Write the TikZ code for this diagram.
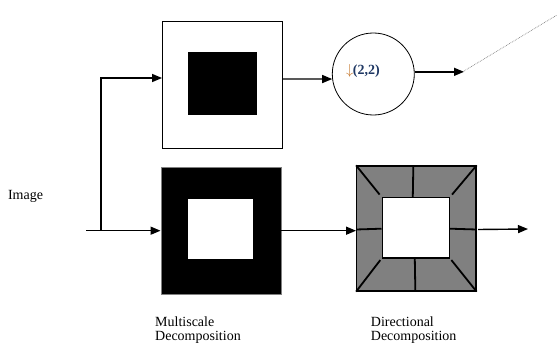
\documentclass[tikz,border=0pt]{standalone}
\usepackage{fontspec}
\setmainfont{Liberation Serif}
\usetikzlibrary{arrows.meta,calc}
\definecolor{panelgray}{HTML}{808080}
\definecolor{arrowtan}{HTML}{C5762A}
\definecolor{navytext}{HTML}{1F3864}
\tikzset{
  outer/.style={draw=black, line width=1.3pt, minimum width=#1, inner sep=0pt},
  flow/.style={line width=1.4pt, -{Triangle[length=10pt,width=8pt]}},
  cut/.style={line width=1.8pt},
  caption/.style={font=\fontsize{14}{14.3}\selectfont, inner sep=0pt},
}
\begin{document}
\begin{tikzpicture}[x=1pt,y=-1pt]
\useasboundingbox (0,0) rectangle (558,345);
\fill[white] (0,0) rectangle (558,345);

% low-pass branch: framed square with black core
\node[outer=119.6pt, minimum height=126.6pt, fill=white] (tb) at (222.5,85) {};
\node[fill=black, minimum width=69pt, minimum height=63pt, inner sep=0pt] (tbi) at (222.2,83.8) {};

% band-pass branch: black frame with white core
\node[draw=gray, line width=0.6pt, fill=black, minimum width=120.3pt, minimum height=126.7pt, inner sep=0pt] (bb) at (221,230.7) {};
\node[fill=white, minimum width=65.6pt, minimum height=59.7pt, inner sep=0pt] (bbi) at (220.5,229.2) {};

% directional filter bank: gray frame split into wedges
\node[outer=119.3pt, minimum height=125pt, fill=panelgray] (gb) at (416.35,228.5) {};
\node[draw=black, line width=1.6pt, fill=white, minimum width=67pt, minimum height=60pt, inner sep=0pt] (gi) at (415.8,227.7) {};
\draw[cut, shorten >=3pt] (gb.north west) -- (gi.north west);
\draw[cut, shorten >=3pt] (gb.north east) -- (gi.north east);
\draw[cut, shorten >=2pt] (gb.south west) -- (gi.south west);
\draw[cut, shorten >=2pt] (gb.south east) -- (gi.south east);
\draw[cut] ([xshift=-3pt]gb.north) -- ([xshift=-3pt]gi.north);
\draw[cut] ([xshift=-1pt]gb.south) -- ([xshift=-1pt]gi.south);
\draw[cut] ([yshift=-1pt]gb.west) -- ([yshift=-1pt]gi.west);
\draw[cut] ([yshift=-1pt]gb.east) -- ([yshift=-1pt]gi.east);

% downsampler
\node[draw=black, line width=0.8pt, circle, minimum size=82pt, inner sep=0pt] (c) at (373.3,74) {};
\node[font=\bfseries\fontsize{14}{14}\selectfont, inner sep=0pt] (ds) at (363,71)
  {\textcolor{arrowtan}{$\downarrow$}\kern-0.5pt\textcolor{navytext}{(2,2)}};

% connectors
\coordinate (in) at (86,230.7);
\coordinate (j) at (101,230.7);
\coordinate (d) at (464,71);
\coordinate (e) at (557,15);
\coordinate (out) at (528,229);
\draw[line width=1.4pt] (in) -- (j);
\draw[flow] (j) -- (bb.west);
\draw[flow] (j) |- ([yshift=7pt]tb.west);
\draw[flow] ([yshift=6pt]tb.east) -- (c.187);
\draw[flow] (c.3) -- (c.3 -| d);
\draw[gray, line width=0.7pt, densely dotted] (d) -- (e);
\draw[flow] ([yshift=-1pt]gb.east) ++(1.5pt,0) -- (out);
\draw[flow] (bb.east) -- (bb.east -| gb.west);

% labels
\node[caption] (img) at (25.5,196) {Image};
\node[caption, anchor=west, align=left] (ms) at (155,330) {Multiscale\\Decomposition};
\node[caption, anchor=west, align=left] (dd) at (370.7,330) {Directional\\Decomposition};
\end{tikzpicture}
\end{document}
